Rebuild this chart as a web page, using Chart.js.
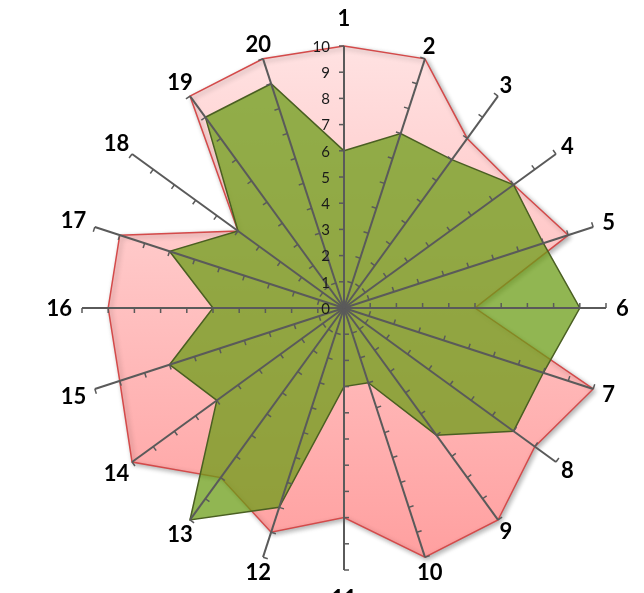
<!DOCTYPE html>
<html>
<head>
<meta charset="utf-8">
<script src="https://cdn.jsdelivr.net/npm/chart.js@4.4.0/dist/chart.umd.min.js"></script>
<style>
    html, body { margin: 0; padding: 0; background: #ffffff; overflow: hidden; }
    #wrap { position: relative; width: 644px; height: 593px; }
</style>
</head>
<body>
<div id="wrap"><canvas id="radarChart"></canvas></div>
<script>
// ---- chart data ----
const categories = ['1', '2', '3', '4', '5', '6', '7', '8', '9', '10',
                    '11', '12', '13', '14', '15', '16', '17', '18', '19', '20'];
const seriesRed   = [10, 10, 8, 8, 9, 5, 10, 9, 10, 10, 8, 9, 8, 10, 9, 9, 9, 5, 10, 10];
const seriesGreen = [6, 7, 7, 8, 8, 9, 8, 8, 6, 3, 3, 8, 10, 6, 7, 5, 7, 5, 9, 9];
const tickValues  = [0, 1, 2, 3, 4, 5, 6, 7, 8, 9, 10];

const AXIS_COLOR = '#5a5a5a';

// soft shadow under the red series (Excel style)
const seriesShadow = {
    id: 'seriesShadow',
    beforeDatasetsDraw(chart) {
        const ctx = chart.ctx;
        ctx.save();
        ctx.shadowColor = 'rgba(0, 0, 0, 0.3)';
        ctx.shadowBlur = 5;
        ctx.shadowOffsetX = 2;
        ctx.shadowOffsetY = 2;
    },
    afterDatasetDraw(chart, args) {
        if (args.index === 0) {
            chart.ctx.shadowColor = 'rgba(0, 0, 0, 0)';
        }
    },
    afterDatasetsDraw(chart) {
        chart.ctx.restore();
    }
};

// tick marks on every spoke, value labels on the first spoke, category labels
const spokeMarks = {
    id: 'spokeMarks',
    afterDraw(chart) {
        const scale = chart.scales.r;
        const ctx = chart.ctx;
        ctx.save();

        ctx.strokeStyle = AXIS_COLOR;
        ctx.lineWidth = 1.5;
        chart.data.labels.forEach((lbl, i) => {
            tickValues.forEach(v => {
                if (v === 0) return;
                const p = scale.getPointPositionForValue(i, v);
                const dx = p.x - scale.xCenter;
                const dy = p.y - scale.yCenter;
                const d = Math.hypot(dx, dy);
                ctx.beginPath();
                ctx.moveTo(p.x, p.y);
                ctx.lineTo(p.x + dy / d * 5, p.y - dx / d * 5);
                ctx.stroke();
            });
        });

        ctx.fillStyle = '#1a1a1a';
        ctx.font = '15px Lato';
        ctx.textAlign = 'right';
        ctx.textBaseline = 'middle';
        tickValues.forEach(v => {
            const p = scale.getPointPositionForValue(0, v);
            ctx.fillText(String(v), p.x - 14, p.y + 1);
        });

        ctx.fillStyle = '#000000';
        ctx.font = 'bold 22px Lato';
        ctx.textAlign = 'center';
        chart.data.labels.forEach((lbl, i) => {
            const a = scale.getIndexAngle(i);
            const s = Math.abs(Math.sin(a));
            const c = Math.abs(Math.cos(a));
            const w = ctx.measureText(lbl).width;
            const half = s * w / 2 + c * 8;
            const gap = 3 + 7 * Math.pow(s, 8) + 17 * Math.pow(c, 60);
            const p = scale.getPointPosition(i, scale.drawingArea + gap + half);
            ctx.fillText(lbl, p.x, p.y + 1);
        });

        ctx.restore();
    }
};

function pinkFill(context) {
    const chart = context.chart;
    const scale = chart.scales.r;
    if (!chart.chartArea || !scale) return '#ffc8c8';
    const g = chart.ctx.createLinearGradient(0, scale.yCenter - scale.drawingArea, 0, scale.yCenter + scale.drawingArea);
    g.addColorStop(0, '#ffe2e2');
    g.addColorStop(1, '#ff9e9e');
    return g;
}

const ctx = document.getElementById('radarChart').getContext('2d');

new Chart(ctx, {
    type: 'radar',
    data: {
        labels: categories,
        datasets: [
            {
                label: 'Series 1',
                data: seriesRed,
                order: 1,
                fill: true,
                backgroundColor: pinkFill,
                borderColor: '#d44a4a',
                borderWidth: 1.5,
                pointRadius: 0
            },
            {
                label: 'Series 2',
                data: seriesGreen,
                order: 0,
                fill: true,
                backgroundColor: 'rgba(106, 156, 22, 0.74)',
                borderColor: '#4a5f22',
                borderWidth: 1.5,
                pointRadius: 0
            }
        ]
    },
    options: {
        responsive: true,
        maintainAspectRatio: false,
        animation: false,
        events: [],
        layout: {
            padding: { left: 82, top: 46, right: 38, bottom: 23 }
        },
        plugins: {
            legend: { display: false },
            tooltip: { enabled: false }
        },
        elements: {
            line: { tension: 0 }
        },
        scales: {
            r: {
                min: 0,
                max: 10,
                ticks: { display: false, stepSize: 1 },
                grid: { display: false, z: 1 },
                angleLines: { display: true, color: AXIS_COLOR, lineWidth: 2 },
                pointLabels: { display: false }
            }
        }
    },
    plugins: [seriesShadow, spokeMarks]
});
</script>
</body>
</html>
